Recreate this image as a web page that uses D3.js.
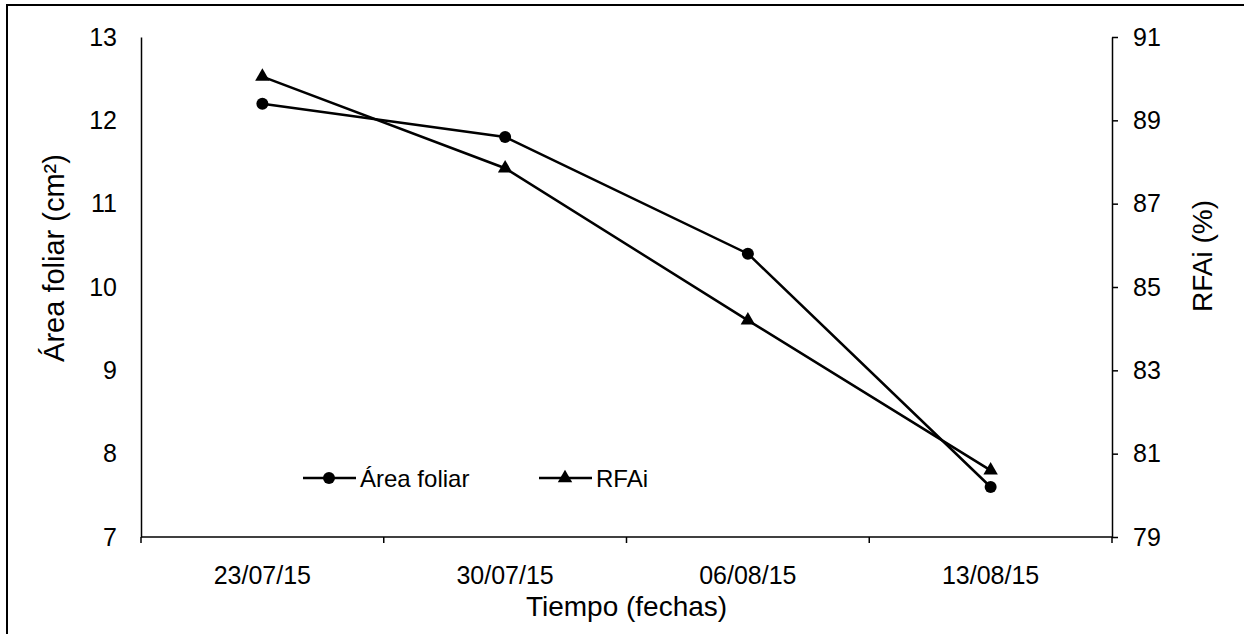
<!DOCTYPE html>
<html>
<head>
<meta charset="utf-8">
<script src="https://cdn.jsdelivr.net/npm/d3@7"></script>
<style>
  body { margin: 0; background: #fff; }
  svg { display: block; font-family: "Liberation Sans", Arial, sans-serif; }
</style>
</head>
<body>
<svg id="chart" width="1244" height="634"></svg>
<script>
// data
const fechas = ["23/07/15", "30/07/15", "06/08/15", "13/08/15"];
const areaFoliar = [12.2, 11.8, 10.4, 7.6];
const rfai = [90.05, 87.85, 84.2, 80.6];
const leftTicks = [7, 8, 9, 10, 11, 12, 13];
const rightTicks = [79, 81, 83, 85, 87, 89, 91];

const svg = d3.select("#chart");

const margin = { left: 141, right: 1112, top: 37, bottom: 537 };

const x = d3.scaleBand()
  .domain(fechas)
  .range([margin.left, margin.right])
  .padding(0);

const yLeft = d3.scaleLinear()
  .domain([7, 13])
  .range([margin.bottom, margin.top]);

const yRight = d3.scaleLinear()
  .domain([79, 91])
  .range([margin.bottom, margin.top]);

// outer frame
svg.append("rect")
  .attr("x", 7).attr("y", 5)
  .attr("width", 1240).attr("height", 640)
  .attr("fill", "none")
  .attr("stroke", "#000")
  .attr("stroke-width", 2);

// left axis: no tick marks
const gLeft = svg.append("g")
  .attr("transform", "translate(" + margin.left + ",0)")
  .call(d3.axisLeft(yLeft).tickValues(leftTicks).tickSize(0).tickPadding(24).tickFormat(d3.format("d")));

// right axis: ticks outward
const gRight = svg.append("g")
  .attr("transform", "translate(" + margin.right + ",0)")
  .call(d3.axisRight(yRight).tickValues(rightTicks).tickSize(6).tickSizeOuter(0).tickPadding(15).tickFormat(d3.format("d")));

// bottom axis: ticks between categories
const boundaries = fechas.map(d => x(d)).concat([margin.right]);
const gBottom = svg.append("g")
  .attr("transform", "translate(0," + margin.bottom + ")");
gBottom.append("line")
  .attr("x1", margin.left).attr("x2", margin.right)
  .attr("stroke", "#000").attr("stroke-width", 1.5);
gBottom.selectAll(".bt")
  .data(boundaries)
  .enter().append("line")
  .attr("x1", d => d).attr("x2", d => d)
  .attr("y1", 0).attr("y2", 6)
  .attr("stroke", "#000").attr("stroke-width", 1.5);
gBottom.selectAll(".lbl")
  .data(fechas)
  .enter().append("text")
  .attr("x", d => x(d) + x.bandwidth() / 2)
  .attr("y", 47)
  .attr("text-anchor", "middle")
  .attr("font-size", 25)
  .text(d => d);

[gLeft, gRight].forEach(g => {
  g.select(".domain").attr("stroke", "#000").attr("stroke-width", 1.5);
  g.selectAll(".tick line").attr("stroke", "#000").attr("stroke-width", 1.5);
  g.selectAll(".tick text").attr("font-size", 25).attr("fill", "#000")
    .attr("font-family", "Liberation Sans, Arial, sans-serif");
});

// axis titles
svg.append("text")
  .attr("x", (margin.left + margin.right) / 2)
  .attr("y", 616)
  .attr("text-anchor", "middle")
  .attr("font-size", 28)
  .text("Tiempo (fechas)");

svg.append("text")
  .attr("transform", "translate(64,258) rotate(-90)")
  .attr("text-anchor", "middle")
  .attr("font-size", 29)
  .text("Área foliar (cm²)");

svg.append("text")
  .attr("transform", "translate(1212,256) rotate(-90)")
  .attr("text-anchor", "middle")
  .attr("font-size", 28)
  .text("RFAi (%)");

const cx = d => x(d) + x.bandwidth() / 2;
const triangle = d3.symbol().type(d3.symbolTriangle).size(90);

// Área foliar series
const lineArea = d3.line()
  .x((d, i) => cx(fechas[i]))
  .y(d => yLeft(d));
svg.append("path")
  .datum(areaFoliar)
  .attr("d", lineArea)
  .attr("fill", "none")
  .attr("stroke", "#000")
  .attr("stroke-width", 2.5);
svg.selectAll(".dotArea")
  .data(areaFoliar)
  .enter().append("circle")
  .attr("cx", (d, i) => cx(fechas[i]))
  .attr("cy", d => yLeft(d))
  .attr("r", 6)
  .attr("fill", "#000");

// RFAi series
const lineRfai = d3.line()
  .x((d, i) => cx(fechas[i]))
  .y(d => yRight(d));
svg.append("path")
  .datum(rfai)
  .attr("d", lineRfai)
  .attr("fill", "none")
  .attr("stroke", "#000")
  .attr("stroke-width", 2.5);
svg.selectAll(".triRfai")
  .data(rfai)
  .enter().append("path")
  .attr("d", triangle)
  .attr("transform", (d, i) => "translate(" + cx(fechas[i]) + "," + yRight(d) + ")")
  .attr("fill", "#000");

// legend
const legend = svg.append("g").attr("font-size", 24);
const legendItems = [
  { name: "Área foliar", x: 303, marker: "circle" },
  { name: "RFAi", x: 539, marker: "triangle" }
];
const ly = 478;
legendItems.forEach(it => {
  legend.append("line")
    .attr("x1", it.x).attr("x2", it.x + 53)
    .attr("y1", ly).attr("y2", ly)
    .attr("stroke", "#000").attr("stroke-width", 2.5);
  if (it.marker === "circle") {
    legend.append("circle")
      .attr("cx", it.x + 26).attr("cy", ly).attr("r", 6).attr("fill", "#000");
  } else {
    legend.append("path")
      .attr("d", triangle)
      .attr("transform", "translate(" + (it.x + 26) + "," + ly + ")")
      .attr("fill", "#000");
  }
  legend.append("text")
    .attr("x", it.x + 57)
    .attr("y", ly + 9)
    .text(it.name);
});
</script>
</body>
</html>
